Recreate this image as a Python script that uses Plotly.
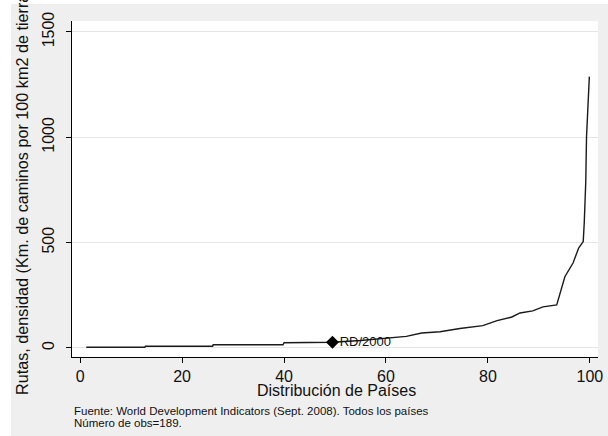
import plotly.graph_objects as go

# Percentile rank of countries (x) and road density (y)
dist_paises = [1.2, 12.7, 12.8, 26.0, 26.1, 39.8, 40.0, 49.5, 55.0, 62.0, 64.0, 67.0,
               70.6, 74.5, 77.0, 79.0, 81.8, 84.7, 86.3, 88.8, 90.8, 93.5, 95.1,
               96.7, 97.8, 98.7, 98.9, 99.2, 99.35, 99.7, 99.9]
densidad = [3, 3, 8, 8, 15, 15, 25, 27, 35, 49, 55, 71,
            77, 92, 100, 106, 130, 147, 166, 176, 195, 204, 338,
            403, 474, 505, 593, 790, 1003, 1186, 1288]

rd_x = [49.5]
rd_y = [27]
rd_label = ["RD/2000"]

x_ticks = [0, 20, 40, 60, 80, 100]
y_ticks = [0, 500, 1000, 1500]

FONT = "Liberation Sans, Arial, sans-serif"

fig = go.Figure()
fig.add_trace(go.Scatter(x=dist_paises, y=densidad, mode="lines",
                         line=dict(color="#1a1a1a", width=1.4), showlegend=False))
fig.add_trace(go.Scatter(x=rd_x, y=rd_y, mode="markers+text", text=rd_label,
                         textposition="middle right",
                         textfont=dict(family=FONT, size=13, color="#111111"),
                         marker=dict(symbol="diamond", size=10, color="black"),
                         showlegend=False))

ml, mr, mt, mb = 72, 10, 21, 79
pw = 608 - ml - mr
ph = 436 - mt - mb


def py(pix):
    """paper y from a pixel row"""
    return (436 - mb - pix) / ph


fig.update_layout(
    width=608, height=436,
    margin=dict(l=ml, r=mr, t=mt, b=mb, pad=0, autoexpand=False),
    paper_bgcolor="#efefef", plot_bgcolor="white",
    font=dict(family=FONT, size=16, color="#111111"),
    xaxis=dict(range=[-1.6, 101.6], tickvals=x_ticks, ticks="outside", ticklen=5,
               tickcolor="black", showline=True, linecolor="black", linewidth=1,
               showgrid=False, zeroline=False, tickfont=dict(size=16),
               automargin=False),
    yaxis=dict(range=[-43, 1552], tickvals=y_ticks, ticks="outside", ticklen=5,
               tickcolor="black", showline=True, linecolor="black", linewidth=1,
               showgrid=True, gridcolor="#e6e6e6", gridwidth=1, zeroline=False,
               tickangle=-90, ticklabelstandoff=6, tickfont=dict(size=16),
               automargin=False),
    shapes=[dict(type="rect", xref="paper", yref="paper",
                 x0=-ml / pw, x1=(11 - ml) / pw, y0=py(436), y1=py(0),
                 fillcolor="white", line=dict(width=0), layer="above"),
            dict(type="rect", xref="paper", yref="paper",
                 x0=-ml / pw, x1=(608 - ml) / pw, y0=py(4), y1=py(0),
                 fillcolor="white", line=dict(width=0), layer="above")],
    annotations=[
        dict(text="Rutas, densidad (Km. de caminos por 100 km2 de tierra)",
             textangle=-90, xref="paper", yref="paper",
             x=(22 - ml) / pw, y=py(192),
             xanchor="center", yanchor="middle", showarrow=False,
             font=dict(size=16.2)),
        dict(text="Distribución de Países", xref="paper", yref="paper",
             x=(336 - ml) / pw, y=py(390),
             xanchor="center", yanchor="middle", showarrow=False,
             font=dict(size=16)),
        dict(text="Fuente: World Development Indicators (Sept. 2008). Todos los países",
             xref="paper", yref="paper", x=(72 - ml) / pw, y=py(411),
             xanchor="left", yanchor="middle", align="left", showarrow=False,
             font=dict(size=11.5)),
        dict(text="Número de obs=189.",
             xref="paper", yref="paper", x=(72 - ml) / pw, y=py(423),
             xanchor="left", yanchor="middle", align="left", showarrow=False,
             font=dict(size=11.5)),
    ],
)

fig.write_html("out.html", config=dict(displayModeBar=False),
               post_script="document.body.style.margin='0';")
